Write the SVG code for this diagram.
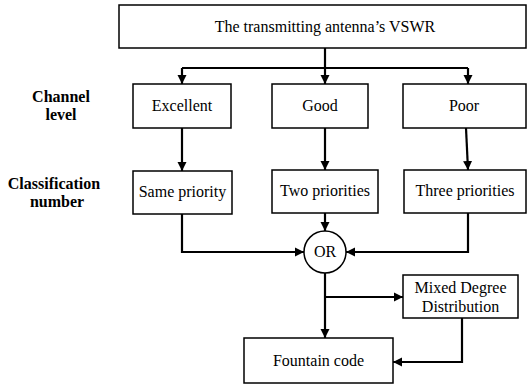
<svg xmlns="http://www.w3.org/2000/svg" width="529" height="386" viewBox="0 0 529 386">
<style>
.box{fill:#fff;stroke:#000;stroke-width:1.5}
.t{font-family:'Liberation Serif','Times New Roman','DejaVu Serif',serif;font-size:16px;text-anchor:middle;fill:#000}
.lab{font-family:'Liberation Serif','Times New Roman','DejaVu Serif',serif;font-size:16px;font-weight:bold;text-anchor:middle;fill:#000}
.c{fill:none;stroke:#000;stroke-width:2.2}
</style>
<defs>
<marker id="ah" markerWidth="10" markerHeight="10" refX="9" refY="5" orient="auto" markerUnits="userSpaceOnUse">
<path d="M0,0.5 L9,5 L0,9.5 Z" fill="#000"/>
</marker>
</defs>
<g id="labels">
<text class="lab" x="61" y="102">Channel</text>
<text class="lab" x="61" y="120">level</text>
<text class="lab" x="54" y="189">Classification</text>
<text class="lab" x="57" y="207">number</text>
</g>
<g id="connectors">
<path class="c" d="M325,48 V68"/>
<path class="c" d="M182,68 H468"/>
<path class="c" d="M182,68 V84" marker-end="url(#ah)"/>
<path class="c" d="M325,68 V84" marker-end="url(#ah)"/>
<path class="c" d="M468,68 V84" marker-end="url(#ah)"/>
<path class="c" d="M182,128 V171" marker-end="url(#ah)"/>
<path class="c" d="M325,128 V170" marker-end="url(#ah)"/>
<path class="c" d="M466,128 L468,170" marker-end="url(#ah)"/>
<path class="c" d="M182,214 V252 H304" marker-end="url(#ah)"/>
<path class="c" d="M468,213 V252 H346" marker-end="url(#ah)"/>
<path class="c" d="M325,213 V231" marker-end="url(#ah)"/>
<path class="c" d="M325,273 V338" marker-end="url(#ah)"/>
<path class="c" d="M325,297 H403" marker-end="url(#ah)"/>
<path class="c" d="M462,318 V362 H393" marker-end="url(#ah)"/>
</g>
<g id="vswr">
<rect class="box" x="119" y="5" width="407" height="43"/>
<text class="t" x="325" y="32">The transmitting antenna’s VSWR</text>
</g>
<g id="excellent">
<rect class="box" x="133" y="84" width="98" height="44"/>
<text class="t" x="182" y="111">Excellent</text>
</g>
<g id="good">
<rect class="box" x="272" y="84" width="96" height="44"/>
<text class="t" x="320" y="111">Good</text>
</g>
<g id="poor">
<rect class="box" x="403" y="84" width="123" height="44"/>
<text class="t" x="464" y="111">Poor</text>
</g>
<g id="same">
<rect class="box" x="133" y="171" width="99" height="43"/>
<text class="t" x="182.5" y="197">Same priority</text>
</g>
<g id="two">
<rect class="box" x="272" y="170" width="106" height="43"/>
<text class="t" x="325" y="196">Two priorities</text>
</g>
<g id="three">
<rect class="box" x="404" y="170" width="122" height="43"/>
<text class="t" x="465" y="196">Three priorities</text>
</g>
<g id="or">
<circle cx="325" cy="252" r="21" fill="#fff" stroke="#000" stroke-width="1.5"/>
<text class="t" x="325" y="257">OR</text>
</g>
<g id="mixed">
<rect class="box" x="403" y="275" width="115" height="43"/>
<text class="t" x="460.5" y="293">Mixed Degree</text>
<text class="t" x="460.5" y="312">Distribution</text>
</g>
<g id="fountain">
<rect class="box" x="244" y="338" width="149" height="45"/>
<text class="t" x="318.5" y="366">Fountain code</text>
</g>
</svg>
